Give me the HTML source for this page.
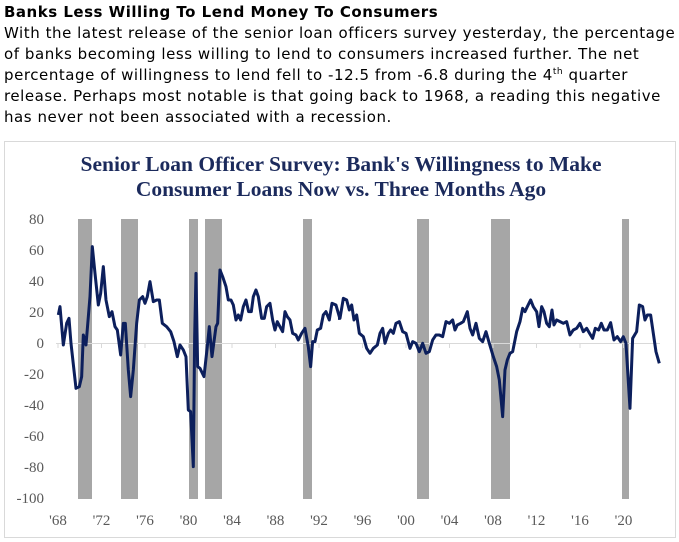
<!DOCTYPE html>
<html><head><meta charset="utf-8"><style>
body{margin:0;width:679px;height:542px;background:#fff;position:relative;overflow:hidden}
.t{position:absolute;left:4px;font-family:"DejaVu Sans","Liberation Sans",sans-serif;font-size:15px;letter-spacing:0.55px;color:#000;white-space:nowrap;line-height:18px}
</style></head><body>
<div class="t" style="top:3px;font-weight:bold;letter-spacing:0.5px">Banks Less Willing To Lend Money To Consumers</div>
<div class="t" style="top:24px">With the latest release of the senior loan officers survey yesterday, the percentage</div>
<div class="t" style="top:45px">of banks becoming less willing to lend to consumers increased further. The net</div>
<div class="t" style="top:66px">percentage of willingness to lend fell to -12.5 from -6.8 during the 4<sup style="font-size:9px;line-height:0">th</sup> quarter</div>
<div class="t" style="top:87px">release. Perhaps most notable is that going back to 1968, a reading this negative</div>
<div class="t" style="top:108px">has never not been associated with a recession.</div>
<svg width="679" height="542" style="position:absolute;left:0;top:0">
<rect x="4.5" y="141.5" width="671" height="396" fill="none" stroke="#d9d9d9"/>
<g font-family="Liberation Serif,serif" font-weight="bold" font-size="21.5" fill="#1b2a5c" text-anchor="middle">
<text x="341" y="171">Senior Loan Officer Survey: Bank's Willingness to Make</text>
<text x="341" y="196">Consumer Loans Now vs. Three Months Ago</text>
</g>
<g fill="#a6a6a6">
<rect x="78" y="219" width="14" height="280"/><rect x="121" y="219" width="17" height="280"/>
<rect x="189" y="219" width="9" height="280"/><rect x="205" y="219" width="17" height="280"/>
<rect x="303" y="219" width="9" height="280"/><rect x="417" y="219" width="12" height="280"/>
<rect x="491" y="219" width="19" height="280"/><rect x="622" y="219" width="7" height="280"/>
</g>
<line x1="56" y1="343.5" x2="660" y2="343.5" stroke="#d9d9d9"/>
<g stroke="#d9d9d9"><line x1="58" y1="343" x2="58" y2="348"/><line x1="101.5" y1="343" x2="101.5" y2="348"/><line x1="145" y1="343" x2="145" y2="348"/><line x1="188.5" y1="343" x2="188.5" y2="348"/><line x1="232" y1="343" x2="232" y2="348"/><line x1="275.5" y1="343" x2="275.5" y2="348"/><line x1="319" y1="343" x2="319" y2="348"/><line x1="362.5" y1="343" x2="362.5" y2="348"/><line x1="406" y1="343" x2="406" y2="348"/><line x1="449.5" y1="343" x2="449.5" y2="348"/><line x1="493" y1="343" x2="493" y2="348"/><line x1="536.5" y1="343" x2="536.5" y2="348"/><line x1="580" y1="343" x2="580" y2="348"/><line x1="623.5" y1="343" x2="623.5" y2="348"/></g>
<g font-family="Liberation Serif,serif" font-size="15" fill="#595959" text-anchor="end">
<text x="44" y="224">80</text><text x="44" y="255">60</text><text x="44" y="286">40</text><text x="44" y="317">20</text><text x="44" y="348">0</text><text x="44" y="379">-20</text><text x="44" y="410">-40</text><text x="44" y="441">-60</text><text x="44" y="472">-80</text><text x="44" y="503">-100</text>
</g>
<g font-family="Liberation Serif,serif" font-size="15" fill="#595959" text-anchor="middle">
<text x="58" y="525">'68</text><text x="101.5" y="525">'72</text><text x="145" y="525">'76</text><text x="188.5" y="525">'80</text><text x="232" y="525">'84</text><text x="275.5" y="525">'88</text><text x="319" y="525">'92</text><text x="362.5" y="525">'96</text><text x="406" y="525">'00</text><text x="449.5" y="525">'04</text><text x="493" y="525">'08</text><text x="536.5" y="525">'12</text><text x="580" y="525">'16</text><text x="623.5" y="525">'20</text>
</g>
<g fill="none" stroke="#0c1f5c" stroke-width="3" stroke-linejoin="round">
<polyline vector-effect="non-scaling-stroke" transform="translate(0,130) scale(0.3333)" points="175,555 180,530 190,645 200,580 207,565 213,640 228,775 238,770 245,740 250,615 258,645 270,500 277,350 285,430 295,525 302,490 310,410 318,510 328,560 336,545 345,590 352,600 362,675 370,580 376,580 385,720 392,800 400,720 410,580 418,510 428,500 435,520 442,500 450,455 460,515 470,510 478,510 487,580 500,590 512,605 522,635 532,680 540,645 550,660 558,680 565,840 572,845 580,1010 584,620 588,430 593,710 600,715 612,740 622,650 628,590 636,680 648,590 653,580 660,420 668,440 678,470 685,510 693,510 700,525 708,570 715,555 722,570 730,530 738,510 746,545 754,545 760,500 768,480 775,500 785,565 793,565 800,530 810,520 818,570 825,600 832,575 840,590 848,605 855,545 862,560 870,570 878,610 888,615 895,630 905,610 915,595 925,650 932,710 938,635 945,635 952,600 962,595 970,555 978,545 988,570 996,520 1008,525 1018,560 1020,565"/>
<polyline vector-effect="non-scaling-stroke" transform="translate(340,130) scale(0.3333)" points="-6,565 0,565 10,505 20,510 28,540 35,525 42,570 50,555 58,610 70,620 80,655 90,670 100,655 112,645 120,610 128,595 135,640 145,610 152,600 160,610 168,580 178,575 188,605 198,610 210,655 218,635 228,640 238,665 248,640 258,670 268,665 278,630 288,615 298,615 308,620 318,575 328,580 338,570 345,600 352,585 362,580 370,575 382,545 390,595 398,615 408,580 418,625 428,635 438,605 448,640 460,680 470,710 478,750 488,860 495,720 502,690 510,670 518,665 530,605 540,575 548,535 555,545 562,530 572,510 580,530 590,545 597,590 605,530 612,545 620,580 628,590 636,540 642,585 650,570 660,575 670,580 680,575 690,615 700,600 710,595 720,580 730,605 740,595 750,612 758,625 766,595 776,600 784,580 792,600 802,600 812,578 822,630 832,620 842,635 850,620 858,640 870,835 878,625 890,605 898,525 908,530 915,570 922,555 932,555 940,610 948,665 958,700"/>
</g>
</svg>
</body></html>
